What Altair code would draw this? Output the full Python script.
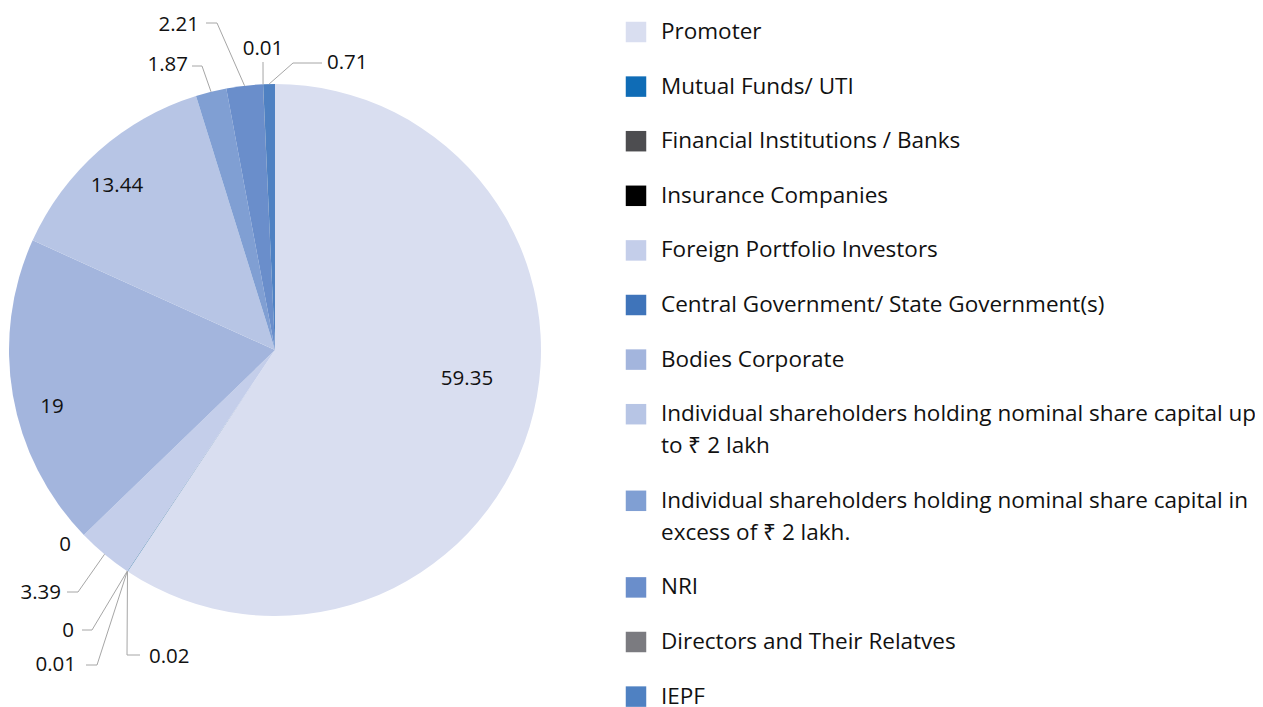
import math
import altair as alt
import pandas as pd

# ---------------- data ----------------
categories = [
    "Promoter",
    "Mutual Funds/ UTI",
    "Financial Institutions / Banks",
    "Insurance Companies",
    "Foreign Portfolio Investors",
    "Central Government/ State Government(s)",
    "Bodies Corporate",
    "Individual shareholders holding nominal share capital up to ₹ 2 lakh",
    "Individual shareholders holding nominal share capital in excess of ₹ 2 lakh.",
    "NRI",
    "Directors and Their Relatves",
    "IEPF",
]
values = [59.35, 0.02, 0.01, 0, 3.39, 0, 19, 13.44, 1.87, 2.21, 0.01, 0.71]
value_labels = ["59.35", "0.02", "0.01", "0", "3.39", "0", "19", "13.44", "1.87", "2.21", "0.01", "0.71"]
legend_lines = [
    ["Promoter"],
    ["Mutual Funds/ UTI"],
    ["Financial Institutions / Banks"],
    ["Insurance Companies"],
    ["Foreign Portfolio Investors"],
    ["Central Government/ State Government(s)"],
    ["Bodies Corporate"],
    ["Individual shareholders holding nominal share capital up", "to ₹ 2 lakh"],
    ["Individual shareholders holding nominal share capital in", "excess of ₹ 2 lakh."],
    ["NRI"],
    ["Directors and Their Relatves"],
    ["IEPF"],
]

# ---------------- styles / layout ----------------
colors = ["#D9DEF0", "#0F6CB6", "#4D4D50", "#000000", "#C4CEEA", "#3F74BA",
          "#A3B5DD", "#B7C5E5", "#809FD3", "#6A8ECB", "#7B7B80", "#4F81C2"]
FONT = "Open Sans"
FS = 20.5        # data labels
LFS = 22.5       # legend text
TXT = "#111111"
W, H = 1247, 699          # drawing area (page minus 8px margin)
CX, CY, R = 275, 350, 266  # pie centre / radius in page pixels

# label placement (page pixels) and alignment
label_pos = [(467, 379), (149, 657), (76, 665), (74, 631), (61, 593), (65, 545),
             (52, 407), (117, 186), (188, 65), (199, 25), (263, 49), (327, 63)]
label_align = ["center", "left", "right", "right", "right", "center",
               "center", "center", "right", "right", "center", "left"]
# leader line bends (elbow, end) for outside labels; None = no line
leader_bends = [None, [(127, 655), (140, 655)], [(97, 665), (86, 665)],
                [(92, 630), (82, 630)], [(78, 592), (67, 592)], None, None, None,
                [(202, 66), (192, 66)], [(217, 23), (206, 23)],
                [(263, 62)], [(293, 63), (322, 63)]]

# legend layout
LEG_SQ_X, LEG_TX_X = 636, 661
LEG_Y0, LEG_STEP, LEG_LINE = 32, 54.6, 32

xs = alt.Scale(domain=[8, 8 + W], range=[0, W])
ys = alt.Scale(domain=[8, 8 + H], range=[0, H])

# ---------------- tables ----------------
pie_df = pd.DataFrame({"cat": categories, "val": values, "idx": range(len(values))})

total = sum(values)
cum = 0.0
lead_rows = []
lab_rows = []
for i, v in enumerate(values):
    mid = (cum + v / 2) / total * 2 * math.pi
    cum += v
    ax = CX + R * math.sin(mid)
    ay = CY - R * math.cos(mid)
    if leader_bends[i] is not None:
        pts = [(ax, ay)] + leader_bends[i]
        for s, (px, py) in enumerate(pts):
            lead_rows.append({"lid": i, "seq": s, "x": px, "y": py})
    lab_rows.append({"t": value_labels[i], "x": label_pos[i][0], "y": label_pos[i][1],
                     "al": label_align[i]})
lead_df = pd.DataFrame(lead_rows)
lab_df = pd.DataFrame(lab_rows)

leg_sq = []
leg_tx = []
y = LEG_Y0
for i, lines in enumerate(legend_lines):
    leg_sq.append({"cat": categories[i], "x": LEG_SQ_X, "y": y})
    for k, ln in enumerate(lines):
        leg_tx.append({"t": ln, "x": LEG_TX_X, "y": y + k * LEG_LINE})
    y += LEG_STEP + (len(lines) - 1) * LEG_LINE
leg_sq_df = pd.DataFrame(leg_sq)
leg_tx_df = pd.DataFrame(leg_tx)

color_scale = alt.Scale(domain=categories, range=colors)

# ---------------- marks ----------------
pie = alt.Chart(pie_df).mark_arc(outerRadius=R, innerRadius=0).encode(
    theta=alt.Theta("val:Q", stack=True),
    order=alt.Order("idx:Q"),
    color=alt.Color("cat:N", scale=color_scale, legend=None),
    x=alt.value(CX - 8),
    y=alt.value(CY - 8),
)

leaders = alt.Chart(lead_df).mark_line(color="#A6A6A6", strokeWidth=1).encode(
    x=alt.X("x:Q", scale=xs, axis=None),
    y=alt.Y("y:Q", scale=ys, axis=None),
    detail="lid:N",
    order="seq:Q",
)

def label_layer(al):
    return alt.Chart(lab_df[lab_df["al"] == al]).mark_text(
        font=FONT, fontSize=FS, color=TXT, align=al, baseline="middle"
    ).encode(
        x=alt.X("x:Q", scale=xs, axis=None),
        y=alt.Y("y:Q", scale=ys, axis=None),
        text="t:N",
    )

legend_sq = alt.Chart(leg_sq_df).mark_square(size=420, opacity=1).encode(
    x=alt.X("x:Q", scale=xs, axis=None),
    y=alt.Y("y:Q", scale=ys, axis=None),
    color=alt.Color("cat:N", scale=color_scale, legend=None),
)

legend_tx = alt.Chart(leg_tx_df).mark_text(
    font=FONT, fontSize=LFS, color=TXT, align="left", baseline="middle"
).encode(
    x=alt.X("x:Q", scale=xs, axis=None),
    y=alt.Y("y:Q", scale=ys, axis=None),
    text="t:N",
)

chart = alt.layer(
    pie, leaders, label_layer("center"), label_layer("left"), label_layer("right"),
    legend_sq, legend_tx,
).properties(
    width=W, height=H, padding=0, autosize=alt.AutoSizeParams(type="none"),
).configure_view(stroke=None).resolve_scale(color="shared")

chart.save("out.html", embed_options={"renderer": "svg", "actions": False})
